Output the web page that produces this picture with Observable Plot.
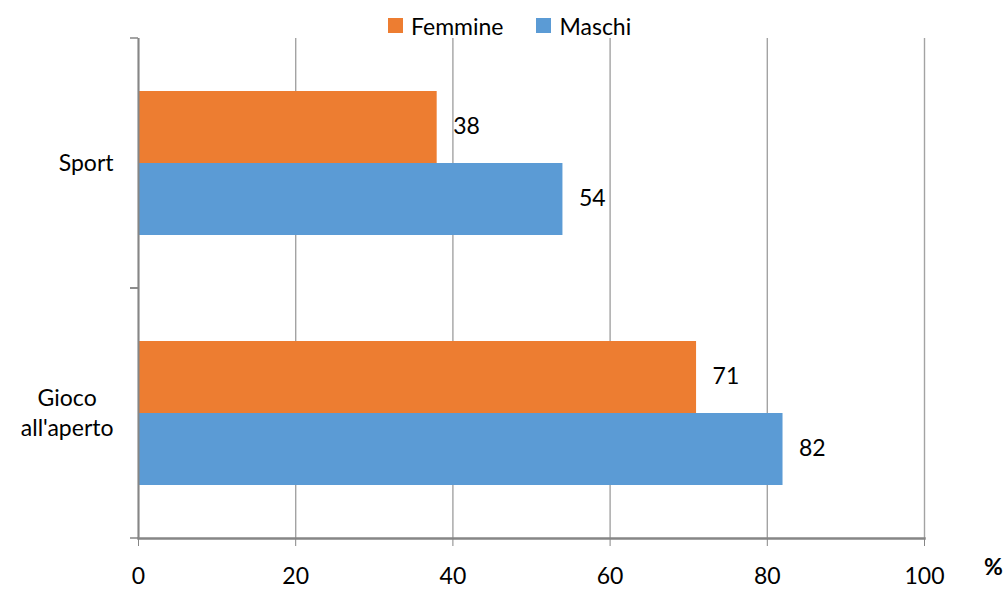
<!DOCTYPE html>
<html>
<head>
<meta charset="utf-8">
<script src="https://cdn.jsdelivr.net/npm/d3@7"></script>
<script src="https://cdn.jsdelivr.net/npm/@observablehq/plot@0.6"></script>
<style>
  html, body { margin: 0; padding: 0; background: #fff; }
  #wrap { width: 1007px; height: 590px; overflow: hidden; font-family: Lato, "Open Sans", sans-serif; }
  #legend { height: 37px; box-sizing: border-box; padding-top: 14px; padding-left: 388px;
            display: flex; align-items: center; font-size: 23px; color: #000; }
  .item { display: flex; align-items: center; margin-right: 33px; }
  .sw { width: 15px; height: 15px; margin-right: 8px; }
</style>
</head>
<body>
<div id="wrap">
  <div id="legend"></div>
  <div id="chart"></div>
</div>
<script>
const categories = ["Sport", "Gioco all'aperto"];
const series = ["Femmine", "Maschi"];
const femmine = [38, 71];
const maschi = [54, 82];
const xTicks = [0, 20, 40, 60, 80, 100];
const colors = ["#ED7D31", "#5B9BD5"];
const unitLabel = "%";

const data = categories.flatMap((c, i) => [
  {category: c, series: series[0], value: femmine[i]},
  {category: c, series: series[1], value: maschi[i]}
]);

// legend
const legend = document.getElementById("legend");
series.forEach((s, i) => {
  const it = document.createElement("div");
  it.className = "item";
  const sw = document.createElement("div");
  sw.className = "sw";
  sw.style.background = colors[i];
  it.appendChild(sw);
  it.appendChild(document.createTextNode(s));
  legend.appendChild(it);
});

const axisColor = "#868686";

// short tick marks on the left axis at the facet boundaries
const leftTicks = (index, scales, values, dimensions) => {
  const g = d3.create("svg:g");
  const x0 = scales.x(0);
  const [t, b] = scales.y.range();
  for (const yy of [t, b]) {
    g.append("line")
      .attr("x1", x0 - 8).attr("x2", x0)
      .attr("y1", yy).attr("y2", yy)
      .attr("stroke", axisColor).attr("stroke-width", 1.5);
  }
  return g.node();
};

const chart = Plot.plot({
  width: 1007,
  height: 553,
  marginTop: 1,
  marginBottom: 52,
  marginLeft: 138,
  marginRight: 83,
  style: {fontFamily: "Lato, 'Open Sans', sans-serif", fontSize: "23px", color: "#000", background: "#fff", overflow: "visible"},
  x: {domain: [0, 100], ticks: xTicks},
  y: {domain: series, paddingInner: 0, paddingOuter: 0.736, axis: null},
  fy: {domain: categories, padding: 0, label: null},
  color: {domain: series, range: colors},
  marks: [
    Plot.gridX(xTicks, {stroke: "#a3a3a3", strokeOpacity: 1, strokeWidth: 1.4}),
    Plot.barX(data, {fy: "category", y: "series", x: "value", fill: "series"}),
    Plot.text(data, {fy: "category", y: "series", x: "value", text: d => String(d.value),
      textAnchor: "start", dx: 16, dy: -1, fill: "#000", fontSize: 23}),
    Plot.ruleX([0], {stroke: axisColor, strokeWidth: 2}),
    leftTicks,
    Plot.frame({anchor: "bottom", facetAnchor: "bottom", stroke: axisColor, strokeWidth: 2.5}),
    Plot.axisX({ticks: xTicks, tickSize: 8, tickPadding: 21, stroke: axisColor, label: null, fontSize: 23}),
    Plot.axisFy({anchor: "left", tickSize: 0, tickPadding: 25, label: null, lineHeight: 1.3, fontSize: 23,
      dy: -2, tickFormat: d => d.replace(" ", "\n")}),
    Plot.text([unitLabel], {frameAnchor: "bottom-right", facetAnchor: "bottom", dx: 69, dy: 29,
      fontWeight: "bold", textAnchor: "middle", lineAnchor: "middle", fontSize: 23, fill: "#000"})
  ]
});

document.getElementById("chart").appendChild(chart);

// center multi-line category labels on their widest line (right-aligned block)
chart.querySelectorAll('[aria-label="fy-axis tick label"] text').forEach(t => {
  const spans = t.querySelectorAll("tspan");
  const items = spans.length ? Array.from(spans) : [t];
  const w = Math.max(...items.map(s => s.getComputedTextLength()));
  t.setAttribute("text-anchor", "middle");
  const tr = t.getAttribute("transform") || "";
  t.setAttribute("transform", tr + ` translate(${-w / 2},0)`);
});
</script>
</body>
</html>
